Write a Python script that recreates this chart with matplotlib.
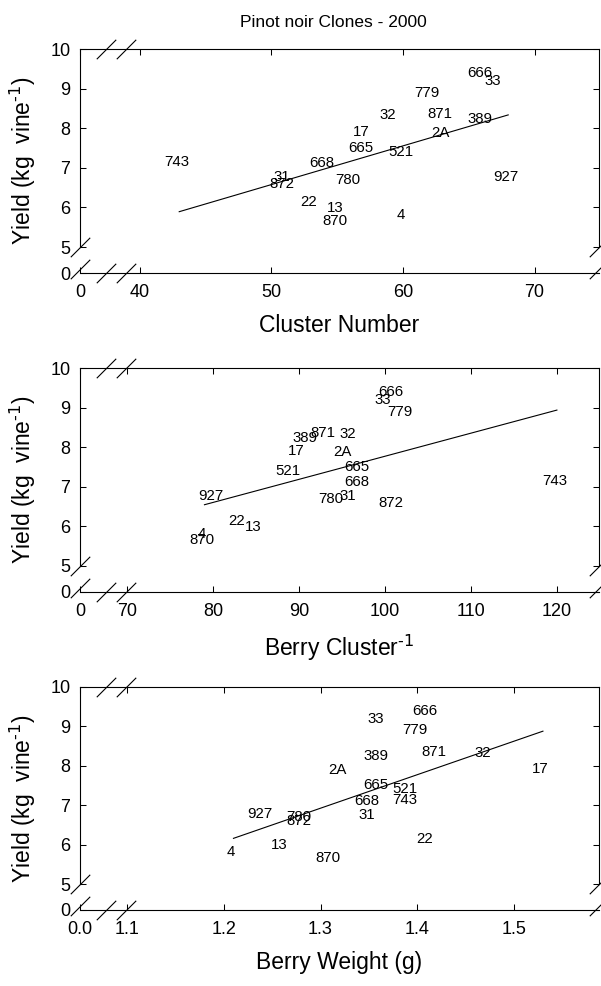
import matplotlib
matplotlib.use("Agg")
import matplotlib.pyplot as plt
import matplotlib.transforms as mtransforms
import numpy as np

plt.rcParams['font.family'] = ['Liberation Sans', 'DejaVu Sans']
plt.rcParams['mathtext.default'] = 'regular'

# clone names and yield (kg vine-1), same order in every panel
clones = ['666', '33', '779', '32', '871', '389', '17', '2A', '665', '521',
          '743', '668', '31', '927', '780', '872', '22', '13', '4', '870']
yld = np.array([9.39, 9.19, 8.90, 8.33, 8.35, 8.24, 7.91, 7.89, 7.50, 7.41,
                7.14, 7.11, 6.76, 6.77, 6.70, 6.59, 6.13, 5.98, 5.80, 5.66])

cluster_number = np.array([66, 67, 62, 59, 63, 66, 57, 63, 57, 60,
                           43, 54, 51, 68, 56, 51, 53, 55, 60, 55])
berry_cluster = np.array([101, 100, 102, 96, 93, 91, 90, 95.3, 97, 89,
                          120, 97, 96, 80, 94, 101, 83, 85, 79, 79])
berry_weight = np.array([1.41, 1.36, 1.40, 1.47, 1.42, 1.36, 1.53, 1.32, 1.36, 1.39,
                         1.39, 1.35, 1.35, 1.24, 1.28, 1.28, 1.41, 1.26, 1.21, 1.31])

ticks1 = [0, 40, 50, 60, 70]
ticks2 = [0, 70, 80, 90, 100, 110, 120]
ticks3 = [0, 1.1, 1.2, 1.3, 1.4, 1.5]
ticklabels3 = ['0.0', '1.1', '1.2', '1.3', '1.4', '1.5']
yticks = [0, 5, 6, 7, 8, 9, 10]


def squeeze(lo, brk, gap):
    # everything below brk is pressed into a short stub of length gap
    def fwd(v):
        v = np.asarray(v, dtype=float)
        return np.where(v < brk, brk - gap + (v - lo) * gap / (brk - lo), v)

    def inv(u):
        u = np.asarray(u, dtype=float)
        return np.where(u < brk, lo + (u - brk + gap) * (brk - lo) / gap, u)
    return fwd, inv


def slash(ax, x, y, trans):
    ax.plot([x], [y], marker=[(-1, -1), (1, 1)], ms=14, mew=0.8, color='k',
            transform=trans, clip_on=False)


def panel(ax, x, xbrk, xgap, xmax, xticks, xlabel, xticklabels=None):
    ax.set_yscale('function', functions=squeeze(0, 5, 0.657))
    ax.set_xscale('function', functions=squeeze(0, xbrk, xgap))
    ax.set_xlim(0, xmax)
    ax.set_ylim(0, 10)

    # linear regression
    m, b = np.polyfit(x, yld, 1)
    xl = np.array([x.min(), x.max()])
    ax.plot(xl, m * xl + b, color='k', lw=0.8)

    for lab, xi, yi in zip(clones, x, yld):
        ax.annotate(lab, (xi, yi), xytext=(-1.7, 0), textcoords='offset points',
                    ha='center', va='center', fontsize=10.8)

    ax.set_xticks(xticks)
    if xticklabels is not None:
        ax.set_xticklabels(xticklabels)
    ax.set_yticks(yticks)
    ax.tick_params(direction='in', length=4.3, width=0.75, top=True, right=True,
                   labelsize=13)
    ax.tick_params(axis='x', pad=8)
    ax.tick_params(axis='y', pad=7)
    for s in ax.spines.values():
        s.set_linewidth(0.8)
    ax.spines['left'].set_bounds(5, 10)
    ax.spines['right'].set_bounds(5, 10)

    # break marks
    for fx in (0.050, 0.0886):
        slash(ax, fx, 0, ax.transAxes)
        slash(ax, fx, 1, ax.transAxes)
    side = mtransforms.blended_transform_factory(ax.transAxes, ax.transData)
    for fx in (0, 1):
        slash(ax, fx, 5, side)
        slash(ax, fx, 0.8, side)

    ax.set_xlabel(xlabel, fontsize=16.5, labelpad=9)
    ax.set_ylabel(r'Yield (kg  vine$^{\text{-1}}$)', fontsize=16.5)
    ax.yaxis.set_label_coords(-0.08, 0.5)


fig = plt.figure(figsize=(6.01, 9.86), dpi=100)
ax1 = fig.add_axes([0.1331, 0.7231, 0.8636, 0.2272])
ax2 = fig.add_axes([0.1331, 0.3999, 0.8636, 0.2266])
ax3 = fig.add_axes([0.1331, 0.0771, 0.8636, 0.2265])

panel(ax1, cluster_number, 40, 4.54, 74.9, ticks1, 'Cluster Number')
panel(ax2, berry_cluster, 70, 5.48, 124.9, ticks2, r'Berry Cluster$^{\text{-1}}$')
panel(ax3, berry_weight, 1.1, 0.0487, 1.588, ticks3, 'Berry Weight (g)', ticklabels3)

fig.text(0.554, 0.973, 'Pinot noir Clones - 2000', ha='center', va='baseline',
         fontsize=12.5)

fig.savefig('out.png', dpi=100)
